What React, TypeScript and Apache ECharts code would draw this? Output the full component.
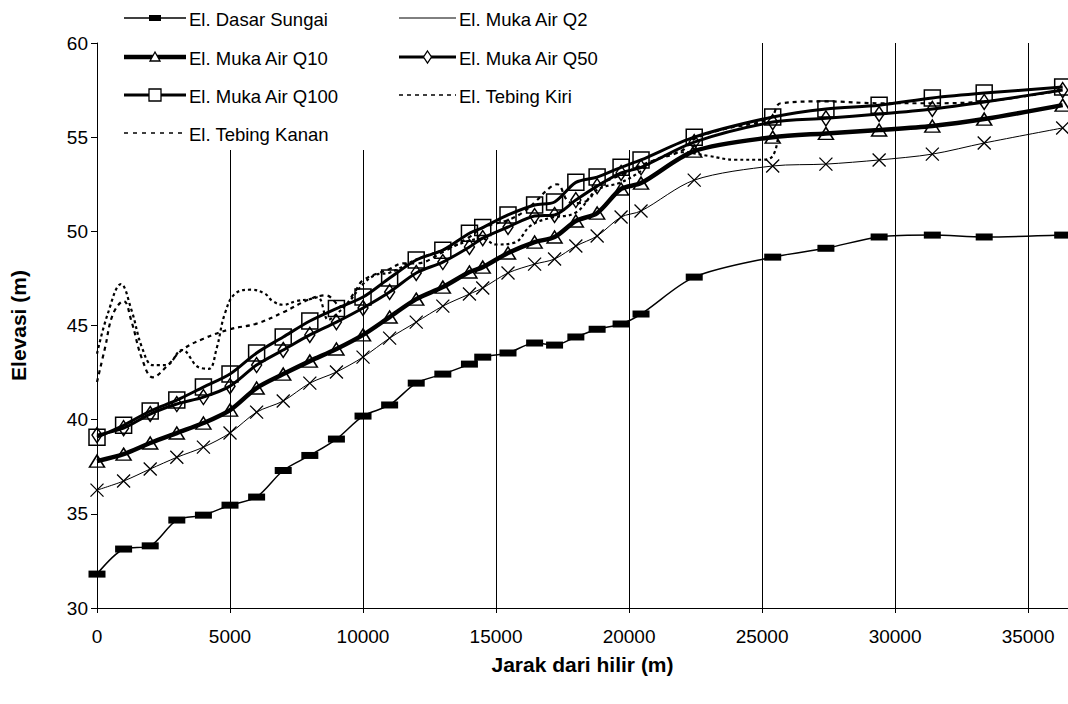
import React, { useEffect, useRef } from "react";
import * as echarts from "echarts";

// ---------- DATA ----------
const stations = [0, 1000, 2000, 3000, 4000, 5000, 6000, 7000, 8000, 9000, 10000, 11000, 12000, 13000, 14000, 14500, 15450, 16450, 17200, 18000, 18800, 19700, 20450, 22450, 25400, 27400, 29400, 31400, 33350, 36300];

const dasarSungai = [31.8, 33.13, 33.3, 34.67, 34.93, 35.46, 35.89, 37.3, 38.1, 38.97, 40.19, 40.78, 41.94, 42.42, 42.95, 43.32, 43.54, 44.07, 43.96, 44.39, 44.8, 45.08, 45.61, 47.57, 48.63, 49.1, 49.7, 49.8, 49.7, 49.8];
const mukaAirQ2 = [36.26, 36.74, 37.38, 38.0, 38.54, 39.29, 40.4, 40.99, 41.94, 42.53, 43.32, 44.33, 45.18, 46.03, 46.67, 46.99, 47.79, 48.26, 48.53, 49.22, 49.75, 50.76, 51.08, 52.72, 53.47, 53.57, 53.79, 54.1, 54.69, 55.49];
const mukaAirQ10 = [37.8, 38.17, 38.76, 39.29, 39.82, 40.51, 41.68, 42.42, 43.11, 43.75, 44.5, 45.45, 46.4, 47.04, 47.84, 48.1, 48.85, 49.43, 49.7, 50.55, 50.97, 52.25, 52.56, 54.26, 55.0, 55.2, 55.38, 55.59, 55.96, 56.7];
const mukaAirQ50 = [39.18, 39.55, 40.3, 40.83, 41.2, 41.78, 42.9, 43.7, 44.5, 45.18, 45.93, 46.78, 47.79, 48.37, 49.17, 49.64, 50.23, 50.81, 50.87, 51.66, 52.4, 53.1, 53.4, 54.74, 55.8, 56.0, 56.23, 56.5, 56.87, 57.5];
const mukaAirQ100 = [39.07, 39.7, 40.46, 41.04, 41.73, 42.42, 43.54, 44.39, 45.24, 45.9, 46.51, 47.52, 48.48, 49.0, 49.9, 50.2, 50.87, 51.4, 51.56, 52.6, 52.88, 53.4, 53.79, 55.0, 56.07, 56.5, 56.7, 57.08, 57.34, 57.66];

const tebingKiriJarak = [0, 300, 600, 1000, 1300, 1700, 2100, 2600, 3200, 4000, 5000, 6000, 7000, 8000, 8600, 9200, 9700, 10000, 11000, 11500, 12000, 13000, 14000, 14500, 15450, 16000, 16500, 17000, 17300, 17700, 18000, 18500, 18800, 19700, 20450, 21000, 22000, 22450, 23500, 25300, 25700, 27400, 29400, 31400, 33350, 36300];
const tebingKiriElevasi = [42.0, 43.8, 45.6, 46.3, 45.2, 43.2, 42.25, 42.8, 43.7, 44.3, 44.8, 45.1, 45.7, 46.4, 46.6, 46.0, 46.8, 47.4, 48.0, 48.3, 48.3, 48.9, 49.7, 50.2, 50.6, 51.0, 51.6, 52.3, 52.5, 51.6, 51.5, 51.7, 52.4, 53.0, 53.5, 53.8, 54.3, 54.9, 55.4, 56.0, 56.8, 56.9, 56.8, 56.8, 56.9, 57.5];

const tebingKananJarak = [0, 400, 900, 1300, 1700, 2100, 2600, 3200, 3800, 4200, 4500, 4800, 5200, 5800, 6300, 6600, 7000, 7500, 8000, 8300, 8700, 9000, 9500, 10000, 10500, 11000, 12000, 13000, 14000, 14500, 15000, 15700, 16300, 17000, 18000, 18800, 19700, 20450, 21000, 22000, 23000, 24000, 25000, 25400, 25600];
const tebingKananElevasi = [43.5, 45.6, 47.2, 45.8, 43.8, 42.9, 42.9, 43.7, 42.8, 42.7, 43.8, 45.6, 46.7, 46.9, 46.7, 46.3, 46.1, 46.3, 46.4, 46.5, 45.3, 45.6, 46.3, 47.2, 47.7, 47.8, 48.5, 49.0, 49.5, 49.6, 49.3, 49.4, 50.3, 50.7, 51.0, 52.2, 52.6, 53.2, 53.8, 54.2, 54.0, 53.8, 53.8, 54.0, 55.0];

const seriesNames = [
  "El. Dasar Sungai",
  "El. Muka Air Q2",
  "El. Muka Air Q10",
  "El. Muka Air Q50",
  "El. Muka Air Q100",
  "El. Tebing Kiri",
  "El. Tebing Kanan",
];

const xAxisTitle = "Jarak dari hilir (m)";
const yAxisTitle = "Elevasi (m)";

const FONT = "'Liberation Sans', Arial, sans-serif";
const X_SYMBOL = "path://M0,0L10,10M10,0L0,10";

function pairs(xs: number[], ys: number[]) {
  return xs.map((x, i) => [x, ys[i]]);
}

function legendMarker(kind: string, cx: number, cy: number): any {
  const st = { fill: "#fff", stroke: "#000", lineWidth: 1.3 };
  if (kind === "rect")
    return { type: "rect", shape: { x: cx - 6, y: cy - 3, width: 12, height: 6 }, style: { fill: "#000" } };
  if (kind === "x")
    return {
      type: "group",
      children: [
        { type: "line", shape: { x1: cx - 5, y1: cy - 5, x2: cx + 5, y2: cy + 5 }, style: { stroke: "#000", lineWidth: 1 } },
        { type: "line", shape: { x1: cx + 5, y1: cy - 5, x2: cx - 5, y2: cy + 5 }, style: { stroke: "#000", lineWidth: 1 } },
      ],
    };
  if (kind === "tri")
    return { type: "polygon", shape: { points: [[cx, cy - 5], [cx + 5, cy + 4], [cx - 5, cy + 4]] }, style: st };
  if (kind === "diamond")
    return { type: "polygon", shape: { points: [[cx, cy - 6], [cx + 4, cy], [cx, cy + 6], [cx - 4, cy]] }, style: st };
  if (kind === "square")
    return { type: "rect", shape: { x: cx - 6, y: cy - 6, width: 12, height: 12 }, style: st };
  return null;
}

export default function App() {
  const ref = useRef<HTMLDivElement>(null);

  useEffect(() => {
    if (!ref.current) return;
    const chart = echarts.init(ref.current, null, { renderer: "svg" });

    const rows = [18, 57, 95, 133];
    const legendItems = [
      { name: seriesNames[0], col: 0, row: 0, width: 1.5, dash: null, marker: "rect" },
      { name: seriesNames[2], col: 0, row: 1, width: 4.5, dash: null, marker: "tri" },
      { name: seriesNames[4], col: 0, row: 2, width: 3, dash: null, marker: "square" },
      { name: seriesNames[6], col: 0, row: 3, width: 1.5, dash: [4, 5], marker: "" },
      { name: seriesNames[1], col: 1, row: 0, width: 1, dash: null, marker: "x" },
      { name: seriesNames[3], col: 1, row: 1, width: 3, dash: null, marker: "diamond" },
      { name: seriesNames[5], col: 1, row: 2, width: 1.5, dash: [4, 4], marker: "" },
    ];
    const cols = [
      { x1: 124, x2: 186, tx: 189 },
      { x1: 399, x2: 456, tx: 459 },
    ];
    const graphics: any[] = [
      { type: "rect", shape: { x: 100, y: 0, width: 645, height: 150 }, style: { fill: "#fff" }, z: 1 },
    ];
    legendItems.forEach((it) => {
      const c = cols[it.col];
      const y = rows[it.row];
      graphics.push({
        type: "line",
        z: 10,
        shape: { x1: c.x1, y1: y, x2: c.x2, y2: y },
        style: { stroke: "#000", lineWidth: it.width, lineDash: it.dash || undefined },
      });
      const m = legendMarker(it.marker, (c.x1 + c.x2) / 2, y);
      if (m) graphics.push({ ...m, z: 11 });
      graphics.push({
        type: "text",
        z: 11,
        x: c.tx,
        y: y + 1,
        style: { text: it.name, fill: "#000", font: `18.5px ${FONT}`, textVerticalAlign: "middle", verticalAlign: "middle" },
      });
    });

    const lineBase = { type: "line", smooth: 0.3, z: 3 };

    const option: any = {
      animation: false,
      backgroundColor: "#fff",
      textStyle: { fontFamily: FONT },
      grid: { left: 97, top: 43, width: 972, height: 565, containLabel: false },
      xAxis: {
        type: "value",
        min: 0,
        max: 36500,
        interval: 5000,
        name: xAxisTitle,
        nameLocation: "middle",
        nameGap: 46,
        nameTextStyle: { color: "#000", fontSize: 21, fontWeight: "bold", fontFamily: FONT },
        axisLine: { show: true, lineStyle: { color: "#000", width: 1 } },
        axisTick: { show: true, length: 5, lineStyle: { color: "#000" } },
        axisLabel: {
          color: "#000",
          fontSize: 19,
          fontFamily: FONT,
          margin: 19,
          showMaxLabel: false,
          formatter: (v: number) => String(v),
        },
        splitLine: { show: true, lineStyle: { color: "#000", width: 1 } },
      },
      yAxis: {
        type: "value",
        min: 30,
        max: 60,
        interval: 5,
        name: yAxisTitle,
        nameLocation: "middle",
        nameGap: 68,
        nameRotate: 90,
        nameTextStyle: { color: "#000", fontSize: 21, fontWeight: "bold", fontFamily: FONT },
        axisLine: { show: true, lineStyle: { color: "#000", width: 1 } },
        axisTick: { show: true, length: 6, lineStyle: { color: "#000" } },
        axisLabel: { color: "#000", fontSize: 19, fontFamily: FONT, margin: 9 },
        splitLine: { show: false },
      },
      graphic: graphics,
      series: [
        {
          ...lineBase,
          name: seriesNames[6],
          data: pairs(tebingKananJarak, tebingKananElevasi),
          symbol: "none",
          smooth: 0.4,
          lineStyle: { color: "#000", width: 2.2, type: [3, 3] },
        },
        {
          ...lineBase,
          name: seriesNames[5],
          data: pairs(tebingKiriJarak, tebingKiriElevasi),
          symbol: "none",
          smooth: 0.4,
          lineStyle: { color: "#000", width: 2.2, type: [4, 4] },
        },
        {
          ...lineBase,
          name: seriesNames[0],
          data: pairs(stations, dasarSungai),
          symbol: "rect",
          symbolSize: [17, 7],
          itemStyle: { color: "#000" },
          lineStyle: { color: "#000", width: 1.5 },
        },
        {
          ...lineBase,
          name: seriesNames[1],
          data: pairs(stations, mukaAirQ2),
          symbol: X_SYMBOL,
          symbolSize: 13,
          itemStyle: { color: "none", borderColor: "#000", borderWidth: 1.3 },
          lineStyle: { color: "#000", width: 1 },
        },
        {
          ...lineBase,
          name: seriesNames[2],
          data: pairs(stations, mukaAirQ10),
          symbol: "triangle",
          symbolSize: [15, 12],
          itemStyle: { color: "none", borderColor: "#000", borderWidth: 1.5 },
          lineStyle: { color: "#000", width: 4.5 },
        },
        {
          ...lineBase,
          name: seriesNames[3],
          data: pairs(stations, mukaAirQ50),
          symbol: "diamond",
          symbolSize: [10, 15],
          itemStyle: { color: "none", borderColor: "#000", borderWidth: 1.5 },
          lineStyle: { color: "#000", width: 3 },
        },
        {
          ...lineBase,
          name: seriesNames[4],
          data: pairs(stations, mukaAirQ100),
          symbol: "rect",
          symbolSize: 16,
          itemStyle: { color: "none", borderColor: "#000", borderWidth: 1.5 },
          lineStyle: { color: "#000", width: 3 },
        },
      ],
    };

    chart.setOption(option);
    return () => chart.dispose();
  }, []);

  return (
    <div
      ref={ref}
      style={{ position: "absolute", left: 0, top: 0, width: 1068, height: 704, background: "#fff" }}
    />
  );
}
